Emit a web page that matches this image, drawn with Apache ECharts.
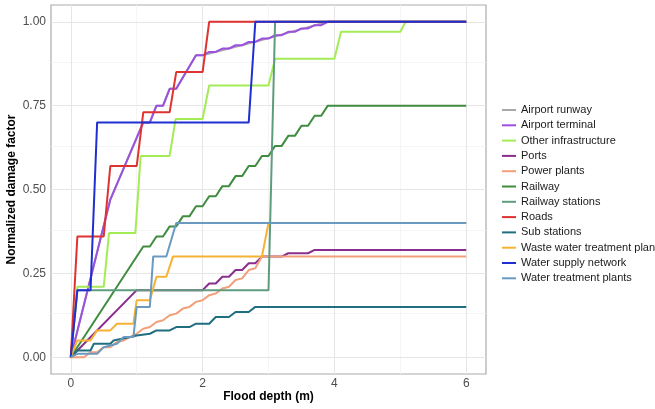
<!DOCTYPE html>
<html>
<head>
<meta charset="utf-8">
<script src="https://cdn.jsdelivr.net/npm/echarts@6/dist/echarts.min.js"></script>
<style>
  html, body { margin: 0; padding: 0; background: #fff; }
  #chart { width: 655px; height: 409px; }
</style>
</head>
<body>
<div id="chart"></div>
<script>
// flood depth (m) vs normalized damage factor, one array per asset type
var airportRunway = [[0, 0], [0.6, 0.47], [1.1, 0.7], [1.2, 0.7], [1.3, 0.75], [1.4, 0.75], [1.5, 0.8], [1.6, 0.8], [1.9, 0.9], [2.0, 0.9], [2.8, 0.94], [3.9, 1], [6, 1]];
var airportTerminal = [[0, 0], [0.6, 0.47], [1.1, 0.7], [1.2, 0.7], [1.3, 0.75], [1.4, 0.75], [1.5, 0.8], [1.6, 0.8], [1.9, 0.9], [2.0, 0.9],
  [2.1, 0.91], [2.2, 0.91], [2.3, 0.92], [2.4, 0.92], [2.5, 0.93], [2.6, 0.93], [2.7, 0.94], [2.8, 0.94], [2.9, 0.95], [3.0, 0.95],
  [3.1, 0.96], [3.2, 0.96], [3.3, 0.97], [3.4, 0.97], [3.5, 0.98], [3.6, 0.98], [3.7, 0.99], [3.8, 0.99], [3.9, 1], [6, 1]];
var otherInfra = [[0, 0], [0.1, 0.21], [0.5, 0.21], [0.58, 0.37], [0.98, 0.37], [1.06, 0.6], [1.5, 0.6], [1.59, 0.71], [2.0, 0.71], [2.1, 0.81],
  [3.0, 0.81], [3.1, 0.89], [4.0, 0.89], [4.1, 0.97], [5.0, 0.97], [5.08, 1], [6, 1]];
var ports = [[0, 0], [1, 0.2], [2, 0.2], [2.1, 0.22], [2.2, 0.22], [2.3, 0.24], [2.4, 0.24], [2.5, 0.26], [2.6, 0.26], [2.7, 0.28], [2.8, 0.28],
  [2.9, 0.3], [3.2, 0.3], [3.3, 0.31], [3.6, 0.31], [3.7, 0.32], [6, 0.32]];
var powerPlants = [[0, 0], [0.2, 0], [0.3, 0.015], [0.4, 0.015], [0.5, 0.03], [0.6, 0.03], [0.7, 0.045], [0.8, 0.05], [0.9, 0.06], [1.0, 0.07],
  [1.1, 0.085], [1.2, 0.09], [1.3, 0.105], [1.4, 0.11], [1.5, 0.125], [1.6, 0.13], [1.7, 0.145], [1.8, 0.15], [1.9, 0.165], [2.0, 0.17],
  [2.1, 0.185], [2.2, 0.19], [2.3, 0.205], [2.4, 0.21], [2.5, 0.23], [2.6, 0.235], [2.7, 0.26], [2.8, 0.265], [2.9, 0.3], [6, 0.3]];
var railway = [[0, 0], [1.1, 0.33], [1.2, 0.33], [1.3, 0.36], [1.4, 0.36], [1.5, 0.39], [1.6, 0.39], [1.7, 0.42], [1.8, 0.42], [1.9, 0.45],
  [2.0, 0.45], [2.1, 0.48], [2.2, 0.48], [2.3, 0.51], [2.4, 0.51], [2.5, 0.54], [2.6, 0.54], [2.7, 0.57], [2.8, 0.57], [2.9, 0.6],
  [3.0, 0.6], [3.1, 0.63], [3.2, 0.63], [3.3, 0.66], [3.4, 0.66], [3.5, 0.69], [3.6, 0.69], [3.7, 0.72], [3.8, 0.72], [3.9, 0.75], [6, 0.75]];
var railwayStations = [[0, 0], [0.1, 0.2], [3.0, 0.2], [3.1, 1], [6, 1]];
var roads = [[0, 0], [0.1, 0.36], [0.5, 0.36], [0.6, 0.57], [1.0, 0.57], [1.1, 0.73], [1.5, 0.73], [1.6, 0.85], [2.0, 0.85], [2.1, 1], [6, 1]];
var subStations = [[0, 0], [0.1, 0.02], [0.3, 0.02], [0.35, 0.04], [0.6, 0.04], [0.65, 0.05], [0.9, 0.06], [1.0, 0.065], [1.2, 0.07], [1.3, 0.08],
  [1.5, 0.08], [1.6, 0.09], [1.8, 0.09], [1.9, 0.1], [2.1, 0.1], [2.2, 0.12], [2.4, 0.12], [2.5, 0.135], [2.7, 0.135], [2.8, 0.15], [6, 0.15]];
var wasteWater = [[0, 0], [0.1, 0.05], [0.3, 0.05], [0.4, 0.08], [0.6, 0.08], [0.7, 0.1], [0.95, 0.1], [1.0, 0.17], [1.2, 0.17], [1.3, 0.24],
  [1.45, 0.24], [1.55, 0.3], [2.9, 0.3], [3.0, 0.4], [6, 0.4]];
var waterSupply = [[0, 0], [0.1, 0.2], [0.3, 0.2], [0.4, 0.7], [2.7, 0.7], [2.8, 1], [6, 1]];
var waterTreatment = [[0, 0], [0.1, 0.01], [0.4, 0.01], [0.5, 0.03], [0.7, 0.04], [0.8, 0.06], [0.95, 0.06], [1.0, 0.15], [1.2, 0.15], [1.25, 0.3],
  [1.45, 0.3], [1.6, 0.4], [6, 0.4]];

var names = ['Airport runway', 'Airport terminal', 'Other infrastructure', 'Ports', 'Power plants', 'Railway', 'Railway stations',
  'Roads', 'Sub stations', 'Waste water treatment plants', 'Water supply network', 'Water treatment plants'];
var values = [airportRunway, airportTerminal, otherInfra, ports, powerPlants, railway, railwayStations,
  roads, subStations, wasteWater, waterSupply, waterTreatment];
var colors = ['#a9a9a9', '#9b51e0', '#a3ec55', '#8a2d8e', '#f2a07c', '#3f8c3f', '#5f9c7e',
  '#de3330', '#1f6f80', '#f5b235', '#1f2fd0', '#6a9ac0'];

var xTicks = [0, 2, 4, 6];
var xMinor = [1, 3, 5];
var yTicks = [0, 0.25, 0.5, 0.75, 1];
var yMinor = [0.125, 0.375, 0.625, 0.875];

var chart = echarts.init(document.getElementById('chart'));

// panel grid lines, drawn as mark lines so they reach the panel border
var gridLines = [];
xMinor.forEach(function (v) { gridLines.push({ xAxis: v, lineStyle: { color: '#f3f3f3', width: 0.8 } }) });
yMinor.forEach(function (v) { gridLines.push({ yAxis: v, lineStyle: { color: '#f3f3f3', width: 0.8 } }) });
xTicks.forEach(function (v) { gridLines.push({ xAxis: v, lineStyle: { color: '#e6e6e6', width: 1 } }) });
yTicks.forEach(function (v) { gridLines.push({ yAxis: v, lineStyle: { color: '#e6e6e6', width: 1 } }) });

var series = [{
  name: 'grid',
  type: 'line',
  data: [],
  z: 1,
  markLine: {
    silent: true,
    z: 1,
    symbol: ['none', 'none'],
    label: { show: false },
    lineStyle: { type: 'solid' },
    animation: false,
    data: gridLines
  }
}];
names.forEach(function (n, i) {
  series.push({
    name: n,
    type: 'line',
    data: values[i],
    color: colors[i],
    showSymbol: false,
    lineStyle: { width: 2, color: colors[i] },
    z: 3
  });
});

var option = {
  animation: false,
  backgroundColor: '#fff',
  textStyle: { fontFamily: 'Liberation Sans' },
  grid: {
    left: 51, top: 5, width: 435, height: 369,
    outerBoundsMode: 'none',
    containLabel: false,
    show: true, borderColor: '#ababab', borderWidth: 1.2, backgroundColor: '#fff'
  },
  legend: {
    orient: 'vertical',
    left: 502, top: 103,
    padding: 0,
    itemGap: 1.3,
    itemWidth: 14, itemHeight: 2,
    icon: 'rect',
    data: names,
    textStyle: { fontSize: 11, color: '#1a1a1a', lineHeight: 14 }
  },
  xAxis: {
    type: 'value',
    min: -0.3, max: 6.3,
    name: 'Flood depth (m)',
    nameLocation: 'middle',
    nameGap: 17,
    nameMoveOverlap: false,
    nameTextStyle: { fontSize: 12, fontWeight: 'bold', color: '#000' },
    axisLine: { show: false },
    axisTick: { show: true, customValues: xTicks, length: 3, lineStyle: { color: '#333' } },
    axisLabel: { customValues: xTicks, color: '#4d4d4d', fontSize: 12, margin: 4 },
    splitLine: { show: false }
  },
  yAxis: {
    type: 'value',
    min: -0.05, max: 1.05,
    name: 'Normalized damage factor',
    nameLocation: 'middle',
    nameGap: 33,
    nameMoveOverlap: false,
    nameTextStyle: { fontSize: 12, fontWeight: 'bold', color: '#000' },
    axisLine: { show: false },
    axisTick: { show: true, customValues: yTicks, length: 3, lineStyle: { color: '#333' } },
    axisLabel: {
      customValues: yTicks, color: '#4d4d4d', fontSize: 12, margin: 5,
      formatter: function (v) { return v.toFixed(2) }
    },
    splitLine: { show: false }
  },
  series: series
};
chart.setOption(option);
</script>
</body>
</html>
